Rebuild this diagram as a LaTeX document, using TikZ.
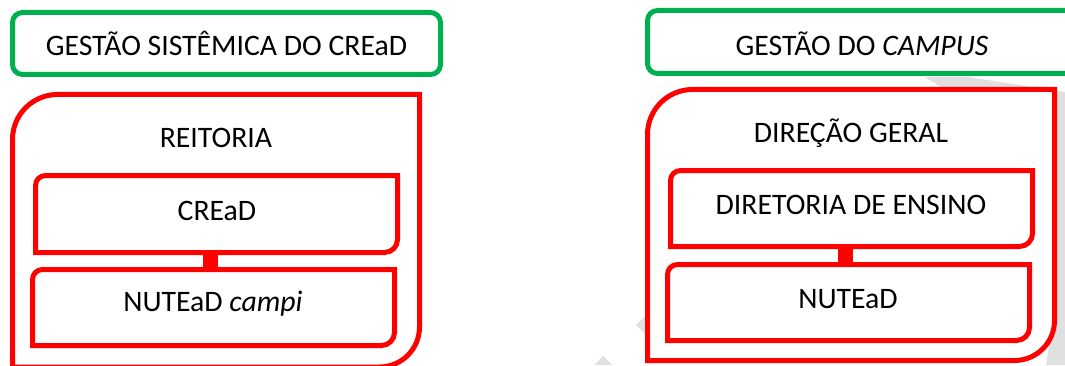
\documentclass[tikz,border=0pt]{standalone}
\usepackage{fontspec}
\setmainfont{Carlito}
\definecolor{boxred}{HTML}{FF0000}
\definecolor{boxgreen}{HTML}{00B050}
\definecolor{ghost}{HTML}{E0E0E0}
\newcommand{\diagbox}[4]{%
  \draw[#4] (#1.south west) -- ([yshift=-#2]#1.north west)
    arc[start angle=180,end angle=90,radius=#2] -- (#1.north east)
    -- ([yshift=#3]#1.south east)
    arc[start angle=0,end angle=-90,radius=#3] -- cycle;}
\begin{document}
\begin{tikzpicture}[x=0.75pt,y=0.75pt,
  frame/.style={rectangle,draw=none,inner sep=0pt,outer sep=0pt},
  greenbox/.style={rectangle,draw=boxgreen,fill=white,line width=3.75pt,rounded corners=7.5pt,inner sep=0pt,outer sep=0pt},
  redline/.style={draw=boxred,fill=white,line width=3.75pt},
  conn/.style={draw=boxred,line width=11.25pt},
  lbl/.style={font=\fontsize{22.3}{26}\selectfont,text=black},
  ghostfill/.style={fill=ghost,draw=none}]
\useasboundingbox (0,0) rectangle (1065,365);
% faint background fragments
\fill[ghostfill] (925,288) -- (968,288) -- (1065,273) -- (1065,0) -- (1046,0) -- (1056,65) -- (1040,115) -- (1040,215) -- cycle;
\fill[ghostfill] (636,40) -- (648,52) -- (648,28) -- cycle;
\fill[ghostfill] (603,9) -- (594,0) -- (612,0) -- cycle;

% ---------- left group ----------
\node[greenbox,minimum width=321pt,minimum height=46.5pt] (g1) at (226.5,321.5) {};
\node[lbl] (g1t) at (g1.center) {GESTÃO SISTÊMICA DO CREaD};
\node[frame,minimum width=305.25pt,minimum height=204.375pt] (o1) at (216,134.25) {};
\diagbox{o1}{33.75pt}{30pt}{redline}
\node[lbl] (t1) at (216,227) {REITORIA};
\node[frame,minimum width=271.5pt,minimum height=57.75pt] (b1) at (216.5,151) {};
\node[frame,minimum width=271.5pt,minimum height=57pt] (b2) at (213.5,57.5) {};
\draw[conn] ([xshift=-4.5pt]b1.center) -- ([xshift=-2.25pt]b2.center |- b1.center) -- ([xshift=-2.25pt]b2.center);
\diagbox{b1}{7.5pt}{9.75pt}{redline}
\diagbox{b2}{7.5pt}{9.75pt}{redline}
\node[lbl] (b1t) at (217,154) {CREaD};
\node[lbl] (b2t) at (213,61) {NUTEaD \textit{campi}};

% ---------- right group ----------
\node[greenbox,minimum width=323.625pt,minimum height=47.25pt] (g2) at (863.25,323) {};
\node[lbl] (g2t) at (862,321) {GESTÃO DO \textit{CAMPUS}};
\node[frame,minimum width=305.25pt,minimum height=203.25pt] (o2) at (851,140) {};
\diagbox{o2}{33.75pt}{30pt}{redline}
\node[lbl] (t2) at (851,232) {DIREÇÃO GERAL};
\node[frame,minimum width=271.5pt,minimum height=57pt] (b3) at (851.5,156.5) {};
\node[frame,minimum width=271.5pt,minimum height=57pt] (b4) at (848.5,62.5) {};
\draw[conn] ([xshift=-4.875pt]b3.center) -- ([xshift=-2.625pt]b4.center |- b3.center) -- ([xshift=-2.625pt]b4.center);
\diagbox{b3}{7.5pt}{9.75pt}{redline}
\diagbox{b4}{7.5pt}{9.75pt}{redline}
\node[lbl] (b3t) at (851,160) {DIRETORIA DE ENSINO};
\node[lbl] (b4t) at (848,66) {NUTEaD};
\end{tikzpicture}
\end{document}
